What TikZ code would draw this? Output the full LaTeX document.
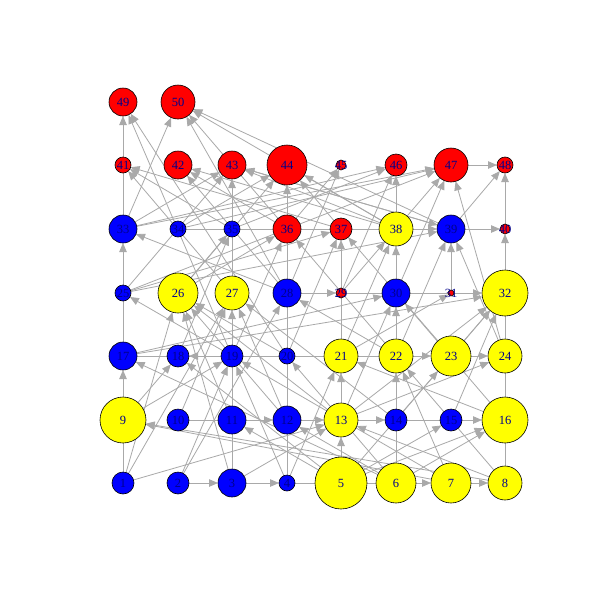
\documentclass[tikz,border=0pt]{standalone}
\usepackage{fontspec}
\setmainfont{Liberation Serif}
\usetikzlibrary{arrows.meta,backgrounds}
\definecolor{cR}{RGB}{255,0,0}
\definecolor{cB}{RGB}{0,0,255}
\definecolor{cY}{RGB}{255,255,0}
\definecolor{labblue}{RGB}{0,0,139}
\definecolor{edgegray}{RGB}{169,169,169}
\tikzset{
  nd/.style={circle, draw=black, line width=0.6pt, inner sep=0pt, outer sep=0pt},
  lab/.style={text=labblue, font=\fontsize{12.5}{12.5}\selectfont, inner sep=0pt},
  edge/.style={draw=edgegray, line width=0.8pt, -{Triangle[length=9pt,width=7.5pt]}}
}
\begin{document}
\begin{tikzpicture}[x=1pt,y=-1pt]
\useasboundingbox (0,0) rectangle (600,600);
\foreach \i/\x/\y/\d/\c in {
 1/123/483/22/cB, 2/178/483/22/cB, 3/232/483/28/cB, 4/287/483/16/cB,
 5/341/483/52/cY, 6/396/483/40/cY, 7/451/483/40/cY, 8/505/483/34/cY,
 9/123/420/46/cY, 10/178/420/22/cB, 11/232/420/28/cB, 12/287/420/28/cB,
 13/341/420/34/cY, 14/396/420/22/cB, 15/451/420/22/cB, 16/505/420/46/cY,
 17/123/356/28/cB, 18/178/356/22/cB, 19/232/356/22/cB, 20/287/356/16/cB,
 21/341/356/34/cY, 22/396/356/34/cY, 23/451/356/40/cY, 24/505/356/34/cY,
 25/123/293/16/cB, 26/178/293/40/cY, 27/232/293/34/cY, 28/287/293/28/cB,
 29/341/293/10/cR, 30/396/293/28/cB, 31/451/293/6/cR, 32/505/293/46/cY,
 33/123/229/28/cB, 34/178/229/16/cB, 35/232/229/16/cB, 36/287/229/28/cR,
 37/341/229/22/cR, 38/396/229/34/cY, 39/451/229/28/cB, 40/505/229/10/cR,
 41/123/165/16/cR, 42/178/165/28/cR, 43/232/165/28/cR, 44/287/165/40/cR,
 45/341/165/10/cR, 46/396/165/22/cR, 47/451/165/34/cR, 48/505/165/16/cR,
 49/123/102/28/cR, 50/178/102/34/cR}
{
  \node[nd, fill=\c, minimum size=\d pt] (n\i) at (\x,\y) {};
  \node[lab] at (\x,\y) {\i};
}
\begin{pgfonlayer}{background}
\fill[white] (0,0) rectangle (600,600);
\foreach \a/\b in {
 1/17, 1/13, 1/26, 1/27,
 2/3, 2/19, 2/28,
 3/4, 3/27, 3/13, 3/26,
 4/44, 4/21, 4/19, 4/7,
 5/13, 5/15, 5/16, 5/23, 5/18, 5/11,
 6/22, 6/16, 6/17, 6/20, 6/12,
 7/8, 7/9, 7/19, 7/22,
 8/9, 8/40, 8/13, 8/22,
 9/18, 9/19,
 10/12, 10/27,
 11/26,
 12/13, 12/26, 12/27,
 13/14, 13/21, 13/24, 13/26, 13/30, 13/32,
 14/16, 14/27, 14/32,
 15/32,
 16/30, 16/21,
 17/33, 17/30, 17/32, 17/23,
 18/35,
 19/25, 19/36, 19/49,
 20/49, 20/26, 20/37,
 21/18, 21/37, 21/38, 21/31,
 22/30, 22/28, 22/36, 22/39,
 23/24, 23/37, 23/32,
 24/39, 24/47,
 25/43, 25/37, 25/39, 25/47,
 26/35, 26/36, 26/44,
 27/43, 27/41,
 28/29, 28/33, 28/42, 28/45, 28/50,
 29/32, 29/38, 29/46,
 30/38, 30/47,
 31/39,
 33/49, 33/50, 33/43, 33/46, 33/47,
 34/39, 34/44, 34/47,
 35/41, 35/46,
 36/42, 36/45, 36/50,
 37/41, 37/44,
 38/42, 38/43, 38/44, 38/46, 38/47, 38/50,
 39/40, 39/48, 39/43, 39/50,
 40/48, 43/39, 47/48}
{
  \draw[edge] (n\a) -- (n\b);
}
\end{pgfonlayer}
\end{tikzpicture}
\end{document}
